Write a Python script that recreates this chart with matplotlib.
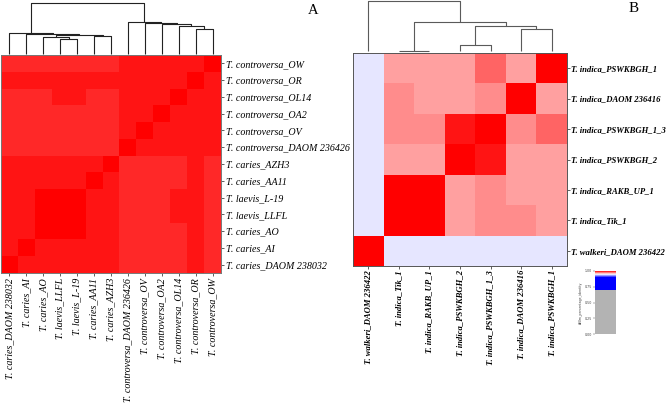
import numpy as np
import matplotlib
matplotlib.use("Agg")
import matplotlib.pyplot as plt
from matplotlib.colors import LinearSegmentedColormap

########### data ###########

# panel A : column order (rows are the same list, drawn bottom -> top)
a_labels = ["T. caries_DAOM 238032", "T. caries_AI", "T. caries_AO",
            "T. laevis_LLFL", "T. laevis_L-19", "T. caries_AA11",
            "T. caries_AZH3", "T. controversa_DAOM 236426",
            "T. controversa_OV", "T. controversa_OA2", "T. controversa_OL14",
            "T. controversa_OR", "T. controversa_OW"]

L, M, R, K = 0.9898, 0.9949, 1.0, 0.9918
# rows as seen, top -> bottom (OW ... DAOM 238032)
a_values = [
    [L, L, L, L, L, L, L, M, M, M, M, M, R],
    [M, M, M, M, M, M, M, M, M, M, M, R, M],
    [L, L, L, M, M, L, L, M, M, M, R, M, M],
    [L, L, L, L, L, L, L, M, M, R, M, M, M],
    [L, L, L, L, L, L, L, M, R, M, M, M, M],
    [L, L, L, L, L, L, L, R, M, M, M, M, M],
    [M, M, M, M, M, M, R, K, K, K, K, M, K],
    [M, M, M, M, M, R, M, K, K, K, K, M, K],
    [M, M, R, R, R, M, M, K, K, K, M, M, K],
    [M, M, R, R, R, M, M, K, K, K, M, M, K],
    [M, M, R, R, R, M, M, K, K, K, K, M, K],
    [M, R, M, M, M, M, M, K, K, K, K, M, K],
    [R, M, M, M, M, M, M, K, K, K, K, M, K],
]
# (left, right, height) merges, new clusters numbered from len(labels)
a_merges = [(3, 4, 44), (2, 13, 50), (5, 6, 54), (14, 15, 57), (1, 16, 59),
            (0, 17, 62), (11, 12, 75), (10, 19, 82), (9, 20, 89), (8, 21, 92),
            (7, 22, 97), (18, 23, 154)]

# panel B
b_labels = ["T. walkeri_DAOM 236422", "T. indica_Tik_1", "T. indica_RAKB_UP_1",
            "T. indica_PSWKBGH_2", "T. indica_PSWKBGH_1_3",
            "T. indica_DAOM 236416", "T. indica_PSWKBGH_1"]
b_values = [
    [0.945, 0.968, 0.968, 0.968, 0.980, 0.968, 1.000],
    [0.945, 0.9725, 0.968, 0.968, 0.971, 1.000, 0.968],
    [0.945, 0.9725, 0.9725, 0.995, 1.000, 0.971, 0.980],
    [0.945, 0.968, 0.968, 1.000, 0.995, 0.968, 0.968],
    [0.945, 1.000, 1.000, 0.968, 0.970, 0.968, 0.968],
    [0.945, 1.000, 1.000, 0.968, 0.971, 0.971, 0.968],
    [1.000, 0.945, 0.945, 0.945, 0.945, 0.945, 0.945],
]
b_merges = [(1, 2, 0), (3, 4, 17), (5, 6, 65), (8, 9, 74), (7, 10, 85),
            (0, 11, 150)]

cbar_ticks = [0.0, 0.25, 0.5, 0.75, 1.0]

#################################

# species boundary map: grey < 0.7, blue to 0.9, white at 0.95, red at 1.0
cdict = {
    "red": ((0.0, 0.0, 0.7), (0.7, 0.7, 0.0), (0.9, 0.0, 0.0),
            (0.95, 1.0, 1.0), (1.0, 1.0, 1.0)),
    "green": ((0.0, 0.0, 0.7), (0.7, 0.7, 0.0), (0.9, 0.0, 0.0),
              (0.95, 1.0, 1.0), (1.0, 0.0, 0.0)),
    "blue": ((0.0, 0.0, 0.7), (0.7, 0.7, 1.0), (0.95, 1.0, 1.0),
             (1.0, 0.0, 0.0)),
}
cmap = LinearSegmentedColormap("BuRd", cdict)

W, H = 670, 403
fig = plt.figure(figsize=(W / 100, H / 100), dpi=100)


def px_axes(x0, y0, x1, y1):
    return fig.add_axes([x0 / W, 1 - y1 / H, (x1 - x0) / W, (y1 - y0) / H])


def draw_dendro(ax, merges, n, color):
    xs = [i + 0.5 for i in range(n)]
    hs = [0.0] * n
    for a, b, h in merges:
        ax.plot([xs[a], xs[a], xs[b], xs[b]], [hs[a], h, h, hs[b]],
                color=color, lw=0.8, clip_on=False, solid_capstyle="butt")
        xs.append((xs[a] + xs[b]) / 2)
        hs.append(h)
    ax.set_xlim(0, n)
    ax.set_ylim(0, hs[-1])
    ax.axis("off")


def draw_heat(ax, values, labels, spine_col, fsize, pad, weight):
    n = len(labels)
    font = dict(family="Liberation Serif", style="italic", fontsize=fsize,
                fontweight=weight)
    im = ax.imshow(np.array(values), cmap=cmap, vmin=0, vmax=1,
                   aspect="auto", interpolation="nearest")
    ax.set_xticks(range(n))
    ax.set_xticklabels(labels, rotation=90, **font)
    ax.set_yticks(range(n))
    ax.set_yticklabels(labels[::-1], **font)
    ax.yaxis.tick_right()
    ax.tick_params(length=2, width=0.6, pad=pad, color="#444444")
    for s in ax.spines.values():
        s.set_color(spine_col)
        s.set_linewidth(0.7)
    return im


# ---- panel A ----
ax_da = px_axes(1, 2.7, 221, 53.5)
draw_dendro(ax_da, a_merges, len(a_labels), "#222222")
ax_a = px_axes(1, 55, 221, 273)
draw_heat(ax_a, a_values, a_labels, "#777777", 7.2, 1.5, "normal")

# ---- panel B ----
ax_db = px_axes(353, 0.7, 567, 50.7)
draw_dendro(ax_db, b_merges, len(b_labels), "#5a5a5a")
ax_b = px_axes(353, 53, 567, 266)
im = draw_heat(ax_b, b_values, b_labels, "#555555", 6.2, 0.8, "bold")

# ---- colour bar ----
cax = px_axes(595, 271, 616, 334)
cb = fig.colorbar(im, cax=cax, ticks=cbar_ticks, format="%.2f")
cb.outline.set_visible(False)
cax.yaxis.set_ticks_position("left")
cax.yaxis.set_label_position("left")
cax.tick_params(labelsize=2.3, length=1.2, width=0.3, pad=0.8, colors="#444444")
cb.set_label("ANIm_percentage_identity", fontsize=2.3, color="#444444", labelpad=1)

fig.text(313 / W, 1 - 11 / H, "A", family="Liberation Serif", fontsize=10.5,
         ha="center", va="center")
fig.text(634 / W, 1 - 8.5 / H, "B", family="Liberation Serif", fontsize=11,
         ha="center", va="center")

fig.savefig("out.png", dpi=100)
